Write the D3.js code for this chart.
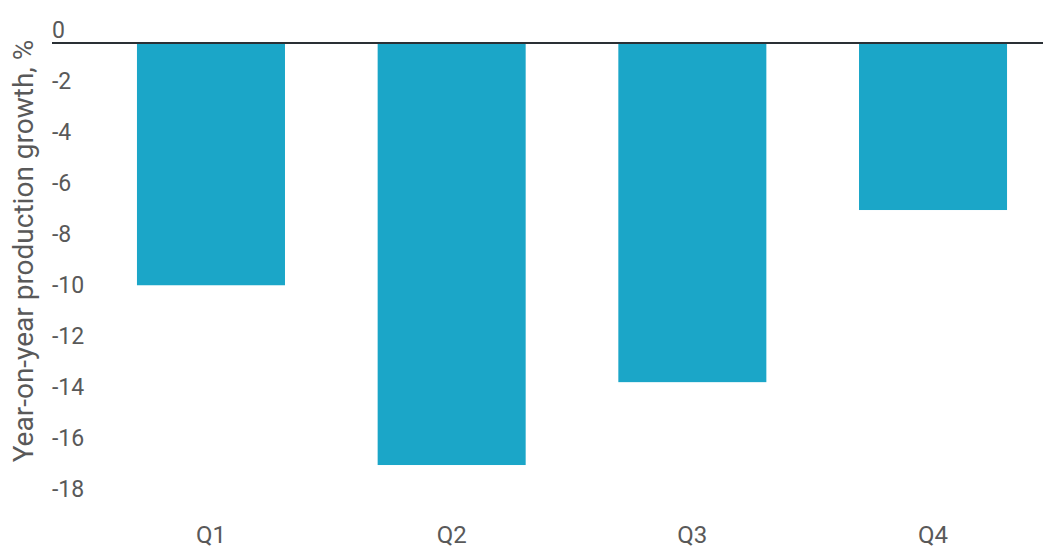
<!DOCTYPE html>
<html>
<head>
<meta charset="utf-8">
<script src="https://cdn.jsdelivr.net/npm/d3@7"></script>
<style>
  html, body { margin: 0; padding: 0; background: #fff; }
  svg { display: block; font-family: Roboto, "Noto Sans", sans-serif; }
</style>
</head>
<body>
<svg id="chart" width="1043" height="550"></svg>
<script>
const categories = ["Q1", "Q2", "Q3", "Q4"];
const values = [-9.5, -16.55, -13.3, -6.55];
const yTicks = [0, -2, -4, -6, -8, -10, -12, -14, -16, -18];
const yTitle = "Year-on-year production growth, %";

const W = 1043, H = 550;
const svg = d3.select("#chart");

const y = d3.scaleLinear().domain([0, -18]).range([43, 502]);
const x = d3.scaleBand().domain(categories).range([52, 1092])
  .paddingInner(0.385).paddingOuter(0.353);

// bars
svg.append("g").selectAll("rect").data(values).join("rect")
  .attr("x", (d, i) => x(categories[i]))
  .attr("y", y(0))
  .attr("width", x.bandwidth())
  .attr("height", d => y(d) - y(0))
  .attr("fill", "#1ba6c8");

// y axis labels (sit above their gridline positions)
const yAxis = d3.axisLeft(y).tickValues(yTicks).tickSize(0).tickPadding(0)
  .tickFormat(d => String(d));
const ga = svg.append("g").attr("transform", "translate(52,0)").call(yAxis);
ga.select(".domain").remove();
ga.selectAll("text")
  .attr("text-anchor", "start")
  .attr("x", 0)
  .attr("dy", "0.35em")
  .attr("transform", "translate(0,-14)")
  .attr("fill", "#595959")
  .style("font-size", "23px")
  .style("font-family", "Roboto, sans-serif");

// zero line
svg.append("line")
  .attr("x1", 52).attr("x2", W)
  .attr("y1", y(0)).attr("y2", y(0))
  .attr("stroke", "#2a3035").attr("stroke-width", 2);

// x axis labels
const xAxis = d3.axisBottom(x).tickSize(0).tickPadding(0);
const gx = svg.append("g").attr("transform", "translate(0,535)").call(xAxis);
gx.select(".domain").remove();
gx.selectAll("text")
  .attr("y", 0)
  .attr("dy", "0.35em")
  .attr("fill", "#595959")
  .style("font-size", "24px")
  .style("font-family", "Roboto, sans-serif");

// y title
svg.append("text")
  .attr("transform", "translate(33,251) rotate(-90)")
  .attr("text-anchor", "middle")
  .attr("fill", "#595959")
  .style("font-size", "28px")
  .style("font-family", "Roboto, sans-serif")
  .text(yTitle);
</script>
</body>
</html>
